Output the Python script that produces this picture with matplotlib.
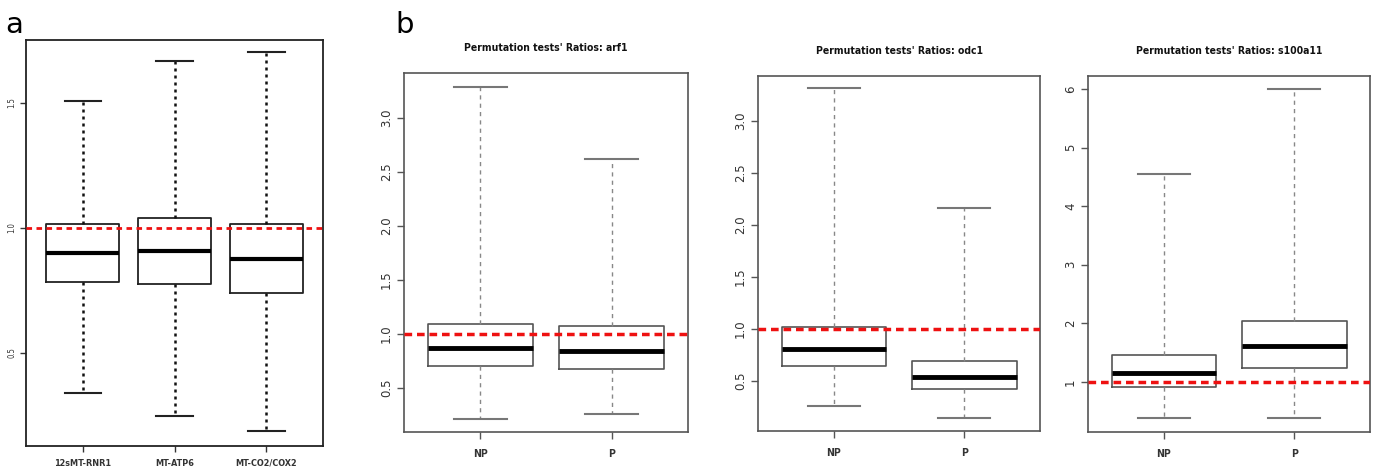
import matplotlib
matplotlib.use("Agg")
import matplotlib.pyplot as plt

# panel a: mitochondrial genes
genes = ["12sMT-RNR1", "MT-ATP6", "MT-CO2/COX2"]
a_whislo = [0.34, 0.25, 0.19]
a_q1 = [0.784, 0.776, 0.74]
a_med = [0.90, 0.908, 0.876]
a_q3 = [1.016, 1.04, 1.016]
a_whishi = [1.51, 1.668, 1.704]

# panel b: permutation tests
groups = ["NP", "P"]
genes_b = ["arf1", "odc1", "s100a11"]
b_whislo = [[0.21, 0.26], [0.26, 0.14], [0.39, 0.39]]
b_q1 = [[0.70, 0.68], [0.64, 0.42], [0.91, 1.24]]
b_med = [[0.87, 0.84], [0.81, 0.54], [1.15, 1.62]]
b_q3 = [[1.09, 1.07], [1.02, 0.69], [1.46, 2.04]]
b_whishi = [[3.29, 2.62], [3.31, 2.16], [4.55, 6.0]]
b_yticks = [[0.5, 1.0, 1.5, 2.0, 2.5, 3.0], [0.5, 1.0, 1.5, 2.0, 2.5, 3.0], [1, 2, 3, 4, 5, 6]]
b_ylim = [(0.093, 3.417), (0.019, 3.43), (0.147, 6.22)]

W, H = 1376, 468


def px_axes(fig, left, right, top, bottom):
    return fig.add_axes([left / W, (H - bottom) / H, (right - left) / W, (bottom - top) / H])


def make_stats(lo, q1, med, q3, hi, labels):
    return [dict(whislo=lo[i], q1=q1[i], med=med[i], q3=q3[i], whishi=hi[i],
                 label=labels[i], fliers=[]) for i in range(len(labels))]


fig = plt.figure(figsize=(W / 100, H / 100), dpi=100)

# ---- panel a
ax = px_axes(fig, 26, 323, 40, 446)
stats = make_stats(a_whislo, a_q1, a_med, a_q3, a_whishi, genes)
ax.bxp(stats, positions=[1, 2, 3], widths=0.8, capwidths=0.4, showfliers=False,
       boxprops=dict(color="#222222", lw=1.3),
       whiskerprops=dict(color="#111111", lw=1.8, linestyle=(0, (1.2, 1.6))),
       capprops=dict(color="#222222", lw=1.5),
       medianprops=dict(color="black", lw=3))
ax.axhline(1.0, color="#ee1111", lw=2, linestyle=(0, (2, 1.6)), zorder=5)
ax.set_xlim(0.38, 3.62)
ax.set_ylim(0.128, 1.752)
ax.set_yticks([0.5, 1.0, 1.5])
ax.set_yticklabels(["0.5", "1.0", "1.5"], rotation=90, va="center",
                   fontsize=5.5, color="#555555", fontstretch="condensed")
ax.set_xticks([1, 2, 3])
ax.set_xticklabels(genes, fontsize=6.5, fontweight="bold", color="#333333",
                   fontstretch="condensed")
ax.tick_params(direction="out", length=4, width=1, colors="#333333", pad=3)
ax.tick_params(axis="x", pad=5)
for s in ax.spines.values():
    s.set_linewidth(1.3)
    s.set_color("#222222")

# ---- panel b
frames = [(404, 688, 73, 432), (758, 1040, 76, 431), (1088, 1370, 76, 432)]
for k, g in enumerate(genes_b):
    ax = px_axes(fig, *frames[k])
    stats = make_stats(b_whislo[k], b_q1[k], b_med[k], b_q3[k], b_whishi[k], groups)
    ax.bxp(stats, positions=[1, 2], widths=0.8, capwidths=0.4, showfliers=False,
           boxprops=dict(color="#555555", lw=1.2),
           whiskerprops=dict(color="#888888", lw=1.0, linestyle=(0, (3, 3))),
           capprops=dict(color="#777777", lw=1.5),
           medianprops=dict(color="black", lw=3.5))
    ax.axhline(1.0, color="#ee1111", lw=2.5, linestyle=(0, (2.2, 1.4)), zorder=5)
    ax.set_xlim(0.42, 2.58)
    ax.set_ylim(*b_ylim[k])
    ax.set_yticks(b_yticks[k])
    if k < 2:
        labs = ["%.1f" % v for v in b_yticks[k]]
    else:
        labs = [str(v) for v in b_yticks[k]]
    ax.set_yticklabels(labs, rotation=90, va="center", fontsize=8.5, color="#333333")
    ax.set_xticks([1, 2])
    ax.set_xticklabels(groups, fontsize=7.5, fontweight="bold", color="#333333",
                       fontstretch="condensed")
    ax.tick_params(direction="out", length=5, width=1, colors="#555555", pad=3)
    ax.tick_params(axis="x", pad=7)
    for lab in ax.get_xticklabels() + ax.get_yticklabels():
        lab.set_color("#333333")
    for s in ax.spines.values():
        s.set_linewidth(1.2)
        s.set_color("#555555")
    ax.set_title("Permutation tests' Ratios: " + g, fontsize=7.5, fontweight="bold",
                 fontstretch="condensed", pad=16, color="#111111")

fig.text(5 / W, (H - 33) / H, "a", fontsize=21, va="baseline", ha="left")
fig.text(395 / W, (H - 33) / H, "b", fontsize=21, va="baseline", ha="left")

fig.savefig("out.png", dpi=100)
